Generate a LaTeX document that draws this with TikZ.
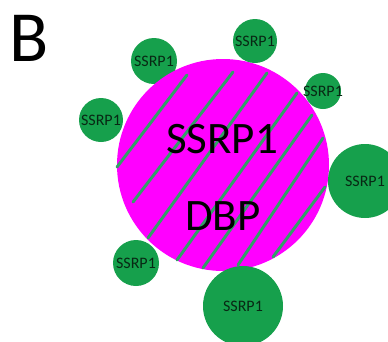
\documentclass[tikz,border=0pt]{standalone}
\usepackage{fontspec}
\setmainfont{Carlito}
\usepackage{xcolor}
\usetikzlibrary{positioning}
\definecolor{sgreen}{RGB}{22,160,76}
\definecolor{coremag}{RGB}{255,0,255}
\definecolor{stripegreen}{RGB}{52,158,104}
\definecolor{sdark}{RGB}{8,40,20}

\begin{document}
\begin{tikzpicture}[x=1pt,y=-1pt,
  core/.style={circle,fill=coremag,inner sep=0pt,minimum size=212pt},
  blob/.style={circle,fill=sgreen,inner sep=0pt,minimum size=#1,
               label={[lbl]center:SSRP1}},
  lbl/.style={text=sdark,font=\fontsize{16}{18}\selectfont,inner sep=0pt},
  stripe/.style={draw=stripegreen,line width=3pt,line cap=round},
  big/.style={font=\fontsize{45}{50}\selectfont,inner sep=0pt}]
\useasboundingbox (0,0) rectangle (388,341);
\node[font=\fontsize{72}{80}\selectfont,inner sep=0pt] (panel) at (29,38) {B};
% green partner behind the core
\node[blob=46pt] (ssrpA) at (154,61) {};
% the core circle with its stripes
\node[core] (dbp) at (223,165) {};
\foreach \xa/\ya/\xb/\yb in {117/167/187/75, 133/202/233/72, 148/238/267/73,
    177/260/297/93, 203/268/312/115, 238/265/323/138, 273/257/325/187}
  \draw[stripe] (\xa,\ya) -- (\xb,\yb);
\node[big] (core1) at (222,139) {SSRP1};
\node[big] (core2) at (223,216) {DBP};
% green partners round the core
\node[blob=44pt] (ssrpB) at (255,41) {};
\node[blob=36pt] (ssrpC) at (323,91) {};
\node[blob=44pt] (ssrpD) at (101,120) {};
\node[blob=74pt] (ssrpE) at (365,181) {};
\node[blob=46pt] (ssrpF) at (136,263) {};
\node[blob=80pt] (ssrpG) at (243,306) {};
\end{tikzpicture}
\end{document}
